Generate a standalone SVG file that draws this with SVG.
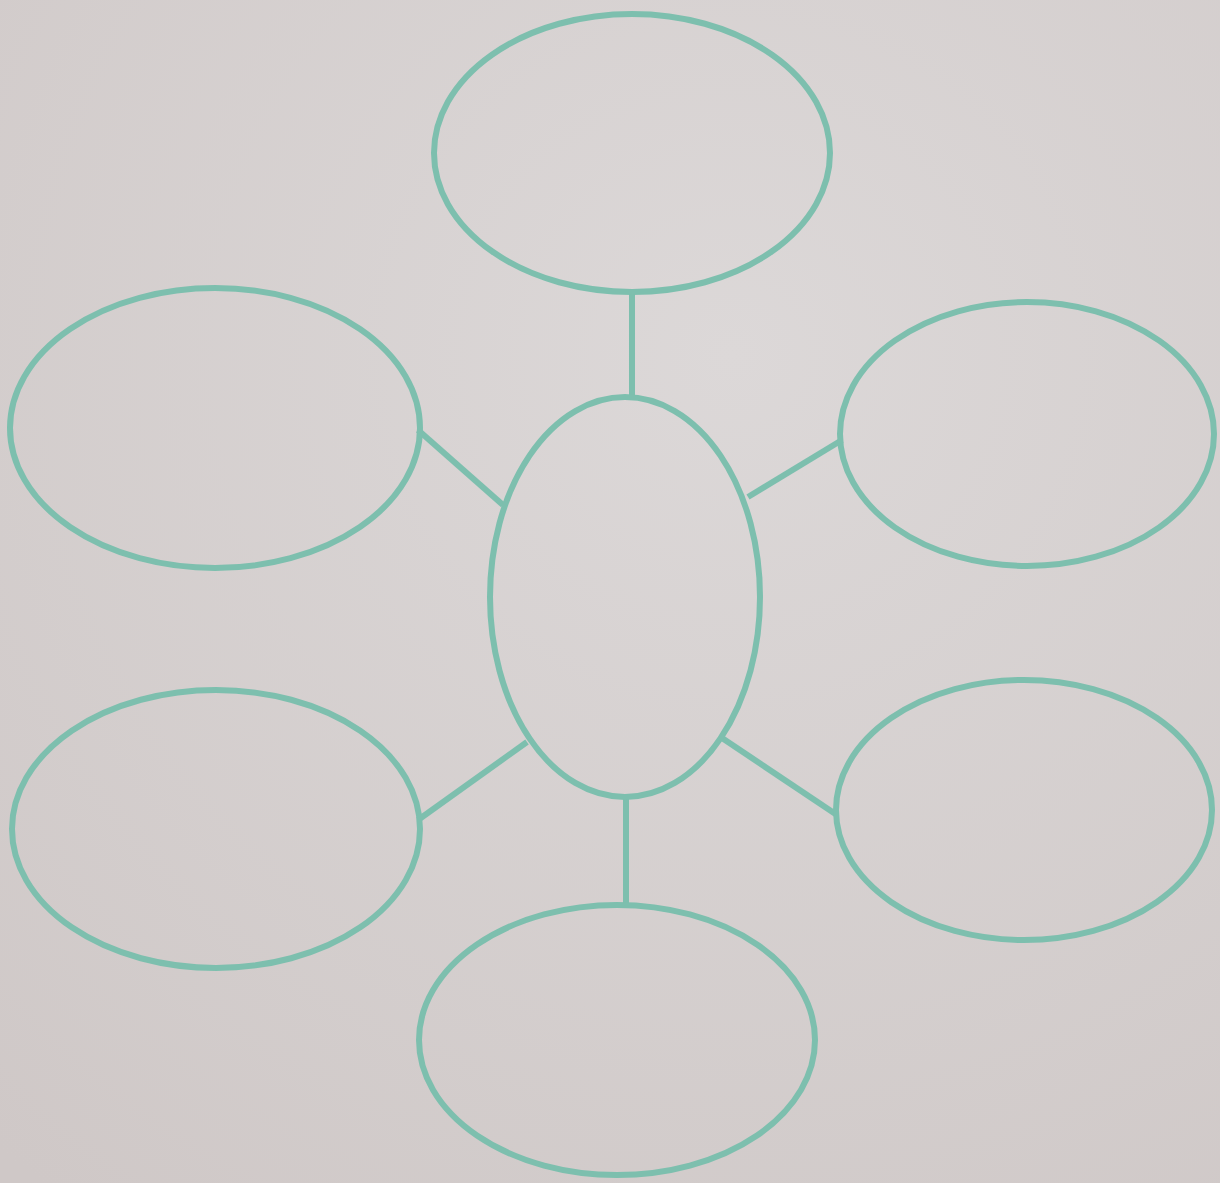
<svg xmlns="http://www.w3.org/2000/svg" width="1220" height="1183" viewBox="0 0 1220 1183">
<defs>
<style>
.n{fill:none;stroke:#7dbfae;stroke-width:6}
.c{stroke:#7dbfae;stroke-width:6;fill:none}
</style>
<radialGradient id="bg" cx="0.6" cy="0.3" r="0.9">
<stop offset="0" stop-color="#dcd8d8"/>
<stop offset="1" stop-color="#cfc8c7"/>
</radialGradient>
</defs>
<rect width="1220" height="1183" fill="url(#bg)"/>
<g id="connectors">
<line class="c" x1="632" y1="292" x2="632" y2="398"/>
<line class="c" x1="418" y1="430" x2="503" y2="505"/>
<line class="c" x1="842" y1="440" x2="748" y2="497"/>
<line class="c" x1="418" y1="820" x2="527" y2="742"/>
<line class="c" x1="837" y1="815" x2="722" y2="738"/>
<line class="c" x1="626" y1="797" x2="626" y2="906"/>
</g>
<g id="top"><ellipse class="n" cx="632" cy="153" rx="198" ry="139"/></g>
<g id="left-top"><ellipse class="n" cx="215" cy="428" rx="205" ry="140"/></g>
<g id="right-top"><ellipse class="n" cx="1027" cy="434" rx="187" ry="132"/></g>
<g id="center"><ellipse class="n" cx="625" cy="597" rx="135" ry="200"/></g>
<g id="left-bottom"><ellipse class="n" cx="216" cy="829" rx="204" ry="139"/></g>
<g id="right-bottom"><ellipse class="n" cx="1024" cy="810" rx="188" ry="130"/></g>
<g id="bottom"><ellipse class="n" cx="617" cy="1040" rx="198" ry="135"/></g>
</svg>
